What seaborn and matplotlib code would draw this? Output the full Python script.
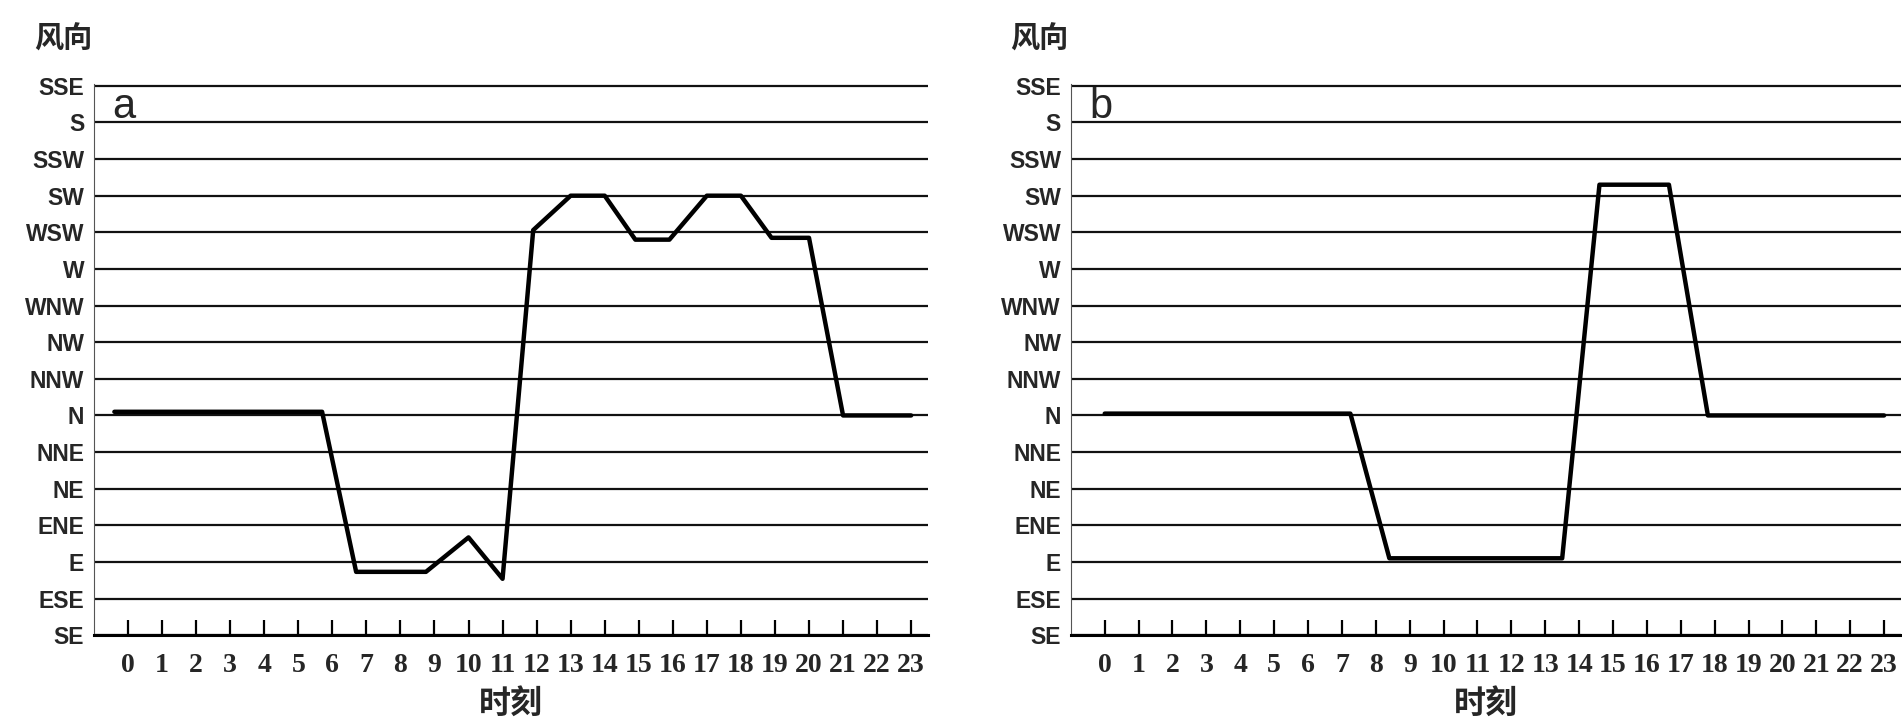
import matplotlib
matplotlib.use("Agg")
import matplotlib.pyplot as plt
import seaborn as sns
import pandas as pd

# wind direction levels, bottom to top
directions = ['SE', 'ESE', 'E', 'ENE', 'NE', 'NNE', 'N', 'NNW',
              'NW', 'WNW', 'W', 'WSW', 'SW', 'SSW', 'S', 'SSE']
hours = list(range(24))

# panel a (hour, direction index)
a_hour = [-0.4, 5.7, 6.7, 8.75, 10, 11, 11.9, 13, 14, 14.9, 15.9, 17, 18, 18.9, 20, 21, 23]
a_dir = [6.1, 6.1, 1.73, 1.73, 2.67, 1.54, 11.06, 12, 12, 10.8, 10.8, 12, 12, 10.85, 10.85, 6, 6]

# panel b
b_hour = [0, 7.25, 8.4, 13.5, 14.6, 16.65, 17.8, 23]
b_dir = [6.05, 6.05, 2.1, 2.1, 12.3, 12.3, 6.0, 6.0]

sns.set_style("white")
plt.rcParams['font.family'] = ['Liberation Sans', 'Noto Sans CJK SC', 'DejaVu Sans']

fig = plt.figure(figsize=(19.02, 7.21), dpi=100)
ax_a = fig.add_axes([0.0494, 0.119, 0.4386, 0.764])
ax_b = fig.add_axes([0.563, 0.119, 0.4365, 0.764])

panels = [(ax_a, a_hour, a_dir, 'a', 63), (ax_b, b_hour, b_dir, 'b', 1039)]

for ax, xs, ys, tag, head_x in panels:
    df = pd.DataFrame({'hour': xs, 'dir': ys})
    sns.lineplot(data=df, x='hour', y='dir', ax=ax, color='black', lw=3.2,
                 estimator=None, sort=False, zorder=3)
    ax.set_xlim(-1, 23.5)
    ax.set_ylim(0, 15.04)
    ax.set_yticks(range(len(directions)))
    ax.set_yticklabels(directions, fontsize=16.5, fontweight='bold')
    ax.set_xticks(hours)
    ax.set_xticklabels([str(h) for h in hours], family='Liberation Serif',
                       fontsize=20, fontweight='bold')
    ax.tick_params(axis='x', direction='in', length=11, width=1.6, pad=13,
                   color='black', bottom=True)
    ax.tick_params(axis='y', length=0, pad=7)
    ax.grid(axis='y', color='#111111', lw=1.6)
    ax.grid(axis='x', visible=False)
    for side in ['top', 'right']:
        ax.spines[side].set_visible(False)
    ax.spines['left'].set_color('#555555')
    ax.spines['left'].set_linewidth(0.8)
    ax.spines['bottom'].set_color('black')
    ax.spines['bottom'].set_linewidth(2.2)
    ax.set_ylabel('')
    ax.set_xlabel('时刻', family=['Noto Sans CJK SC', 'DejaVu Sans'],
                  fontsize=23, fontweight='bold', labelpad=7)
    ax.text(0.022, 0.995, tag, transform=ax.transAxes, fontsize=30,
            ha='left', va='top')
    fig.text(head_x / 1902, 1 - 39 / 721, '风向',
             family=['Noto Sans CJK SC', 'DejaVu Sans'],
             fontsize=21, fontweight='bold', ha='center', va='center')

fig.savefig('out.png', dpi=100, facecolor='white')
